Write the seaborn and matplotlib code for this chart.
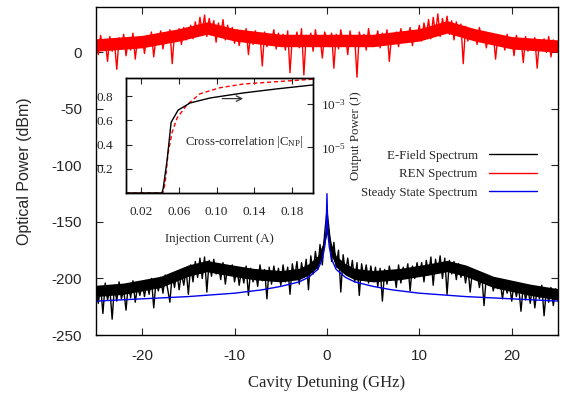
import numpy as np
import pandas as pd
import seaborn as sns
import matplotlib.pyplot as plt
from matplotlib.lines import Line2D

# cavity detuning grid (GHz), 0.25 GHz step
detuning = np.linspace(-25, 25, 201)

# REN spectrum (dBm)
ren = [12, -2, 15, 3, 10, -8, 14, 1, 9, -15, 13, 4, 16, -3, 11, 2, 17, -6, 12, 5, 14,
       -1, 15, 6, 18, -4, 13, 8, 19, 3, 16, 9, 20, -10, 17, 10, 21, 7, 22, 11, 14,
       24, 12, 27, 16, 31, 18, 33, 14, 30, 20, 28, 9, 26, 15, 29, 11, 24, 13, 22, 8,
       20, 6, 18, 10, 21, -2, 17, 7, 19, 11, 16, -12, 18, 5, 15, 9, 20, 3, 17, 6,
       16, 2, 19, -18, 14, 7, 18, 4, 21, -20, 15, 8, 17, 1, 20, 6, 13, -5, 18,
       12,
       5, 17, -14, 16, 3, 20, 8, 15, -2, 19, 6, 14, -22, 18, 9, 16, 2, 21, 7,
       15, 10, 19, 4, 17, 8, 20, -8, 16, 11, 18, 5, 21, 9, 17, 12, 22, 6, 19, 13,
       24, 10, 26, 15, 29, 12, 31, 17, 34, 14, 30, 19, 32, 16, 28, 11, 27, 15, 25, -10,
       23, 10, 21, 14, 19, 7, 22, 12, 18, 4, 17, 9, 16, -6, 15, 8, 14, 2, 16, 5,
       13, -3, 15, 6, 12, -9, 14, 1, 11, 4, 13, -14, 10, 3, 12, 0, 14, -4, 11, 2, 9]

# E-field spectrum (dBm)
efield = [-205, -222, -207, -231, -204, -219, -209, -236, -206, -220, -203, -218, -210, -228, -205, -217, -202, -221, -207, -215, -204,
          -216, -203, -214, -200, -226, -202, -211, -199, -213, -197, -209, -221, -196, -208, -194, -210, -195, -206, -192, -214,
          -188, -203, -185, -199, -182, -200, -181, -212, -184, -198, -183, -196, -187, -201, -186, -205, -189, -197, -188, -203,
          -190, -206, -192, -204, -189, -215, -191, -203, -193, -207, -188, -202, -192, -218, -190, -205, -189, -201, -191, -206,
          -188, -203, -190, -214, -187, -200, -185, -205, -186, -199, -183, -210, -180, -196, -176, -192, -170, -188, -160,
          -140,
          -158, -185, -168, -190, -175, -212, -179, -195, -182, -198, -184, -203, -186, -215, -187, -200, -188, -204, -189,
          -202, -190, -207, -191, -220, -192, -205, -189, -201, -193, -208, -188, -204, -190, -199, -187, -211, -189, -200, -186,
          -198, -186, -203, -184, -197, -181, -206, -183, -195, -180, -200, -182, -214, -184, -196, -185, -201, -187, -199, -189,
          -204, -190, -212, -193, -201, -195, -208, -196, -224, -198, -206, -199, -211, -201, -209, -203, -218, -202, -213, -205,
          -220, -204, -216, -207, -229, -206, -219, -208, -222, -207, -226, -209, -218, -206, -233, -210, -221, -208, -224, -209, -219]

# dense core of the noisy spectra (band edges, dBm)
ren_band_x = [-25, -20, -16, -13, -10, -5, 0, 5, 10, 13, 16, 20, 25]
ren_band_hi = [12, 15, 21, 27, 21, 16, 16, 16, 21, 28, 21, 14, 11]
ren_band_lo = [1, 4, 10, 16, 10, 5, 5, 5, 10, 17, 10, 3, 0]

ef_band_x = [-25, -22, -18, -15, -13, -11, -8, -5, -3, -2, -1, -0.5, -0.2, 0,
             0.2, 0.5, 1, 2, 3, 5, 8, 11, 13, 15, 18, 22, 25]
ef_band_hi = [-206, -204, -198, -188, -184, -187, -191, -193, -191, -187, -180, -170, -158, -150,
              -158, -170, -180, -187, -191, -193, -191, -187, -184, -188, -198, -205, -209]
ef_band_lo = [-216, -214, -208, -198, -194, -197, -201, -203, -201, -197, -190, -180, -168, -160,
              -168, -180, -190, -197, -201, -203, -201, -197, -194, -198, -208, -215, -219]

# steady state spectrum (dBm)
ss_detuning = [-25, -20, -15, -10, -7, -5, -3, -2, -1, -0.5, -0.25, -0.1, 0,
               0.1, 0.25, 0.5, 1, 2, 3, 5, 7, 10, 15, 20, 25]
ss_power = [-220, -218, -216, -213, -210, -207, -203, -199, -192, -183, -172, -160, -125,
            -160, -172, -183, -192, -199, -203, -207, -210, -213, -216, -218, -220]

# inset: cross-correlation and output power vs injection current
current_cc = [0.004, 0.043, 0.0454, 0.0486, 0.0528, 0.0581, 0.0687, 0.0825, 0.1037, 0.128, 0.164, 0.202]
cross_corr = [0.0, 0.0, 0.08, 0.33, 0.50, 0.62, 0.73, 0.82, 0.87, 0.90, 0.92, 0.94]
current_pw = [0.004, 0.042, 0.0433, 0.0475, 0.0518, 0.0592, 0.0719, 0.0931, 0.128, 0.164, 0.202]
output_pw = [10**-7.1, 10**-7.1, 10**-6.91, 10**-5.6, 10**-3.84, 10**-3.28, 10**-2.95, 10**-2.72,
             10**-2.49, 10**-2.30, 10**-2.12]

sns.set_style("ticks")
serif = "Liberation Serif"
sans = "Liberation Sans"
plt.rcParams["axes.unicode_minus"] = False
plt.rcParams["mathtext.fontset"] = "custom"
plt.rcParams["mathtext.rm"] = serif
plt.rcParams["mathtext.it"] = serif + ":italic"
RED = "#ff0000"
BLUE = "#0000ee"

fig = plt.figure(figsize=(5.63, 3.96), dpi=100)
ax = fig.add_axes([0.1705, 0.154, 0.8205, 0.828])

ax.fill_between(ef_band_x, ef_band_lo, ef_band_hi, color="black", lw=0)
sns.lineplot(x=detuning, y=efield, color="black", lw=1.0, ax=ax, estimator=None)
sns.lineplot(x=ss_detuning, y=ss_power, color=BLUE, lw=1.0, ax=ax, estimator=None)
ax.fill_between(ren_band_x, ren_band_lo, ren_band_hi, color=RED, lw=0)
sns.lineplot(x=detuning, y=ren, color=RED, lw=1.0, ax=ax, estimator=None)

ax.set_xlim(-25, 25)
ax.set_ylim(-250, 40)
ax.set_xticks([-20, -10, 0, 10, 20])
ax.set_yticks([-250, -200, -150, -100, -50, 0])
ax.tick_params(direction="in", top=True, right=True, length=5, width=0.8,
               labelsize=11, pad=10)
for lab in ax.get_xticklabels() + ax.get_yticklabels():
    lab.set_fontfamily(sans)
for s in ax.spines.values():
    s.set_linewidth(1.0)
    s.set_color("black")
ax.set_xlabel("Cavity Detuning (GHz)", fontfamily=serif, fontsize=12, labelpad=9)
ax.set_ylabel("Optical Power (dBm)", fontfamily=sans, fontsize=11.5, labelpad=14)

handles = [Line2D([], [], color="black", lw=1.0),
           Line2D([], [], color=RED, lw=1.0),
           Line2D([], [], color=BLUE, lw=1.0)]
ax.legend(handles, ["E-Field Spectrum", "REN Spectrum", "Steady State Spectrum"],
          loc="upper right", bbox_to_anchor=(0.98, 0.60), frameon=False,
          markerfirst=False, prop={"family": serif, "size": 9.3},
          handlelength=3.7, labelspacing=0.5, handletextpad=0.9)

# inset
ins = fig.add_axes([0.2238, 0.5126, 0.332, 0.2904])
sns.lineplot(x=current_cc, y=cross_corr, color=RED, lw=1.0, ax=ins,
             linestyle=(0, (3, 2)), estimator=None)
ins.set_xlim(0.004, 0.202)
ins.set_ylim(0, 0.95)
ins.set_xticks([0.02, 0.06, 0.10, 0.14, 0.18])
ins.set_xticklabels(["0.02", "0.06", "0.10", "0.14", "0.18"])
ins.set_yticks([0.2, 0.4, 0.6, 0.8])
ins.tick_params(direction="in", top=True, length=4, width=0.8, labelsize=9.5, pad=9)
ins.set_xlabel("Injection Current (A)", fontfamily=serif, fontsize=9.3, labelpad=11)
for lab in ins.get_xticklabels() + ins.get_yticklabels():
    lab.set_fontfamily(serif)
ins.text(0.066, 0.42, r"Cross-correlation $|\mathrm{C}_{\mathrm{NP}}|$", fontfamily=serif,
         fontsize=9.2, va="center", ha="left")
ins.annotate("", xy=(0.131, 0.78), xytext=(0.103, 0.78),
             arrowprops=dict(arrowstyle="->", color="#333333", lw=0.9))

ins2 = ins.twinx()
sns.lineplot(x=current_pw, y=output_pw, color="black", lw=1.0, ax=ins2, estimator=None)
ins2.set_yscale("log")
ins2.set_ylim(10**-7.1, 10**-1.8)
ins2.set_yticks([1e-3, 1e-5])
ins2.minorticks_off()
ins2.tick_params(direction="in", length=4, width=0.8, labelsize=9.5, pad=6)
for lab in ins2.get_yticklabels():
    lab.set_fontfamily(serif)
ins2.set_ylabel("Output Power (J)", fontfamily=serif, fontsize=9.3, labelpad=3)
for a in (ins, ins2):
    for s in a.spines.values():
        s.set_linewidth(1.0)
        s.set_color("black")
ins.set_zorder(3)
ins2.set_zorder(4)
ins.patch.set_facecolor("white")

fig.savefig("out.png", dpi=100)
